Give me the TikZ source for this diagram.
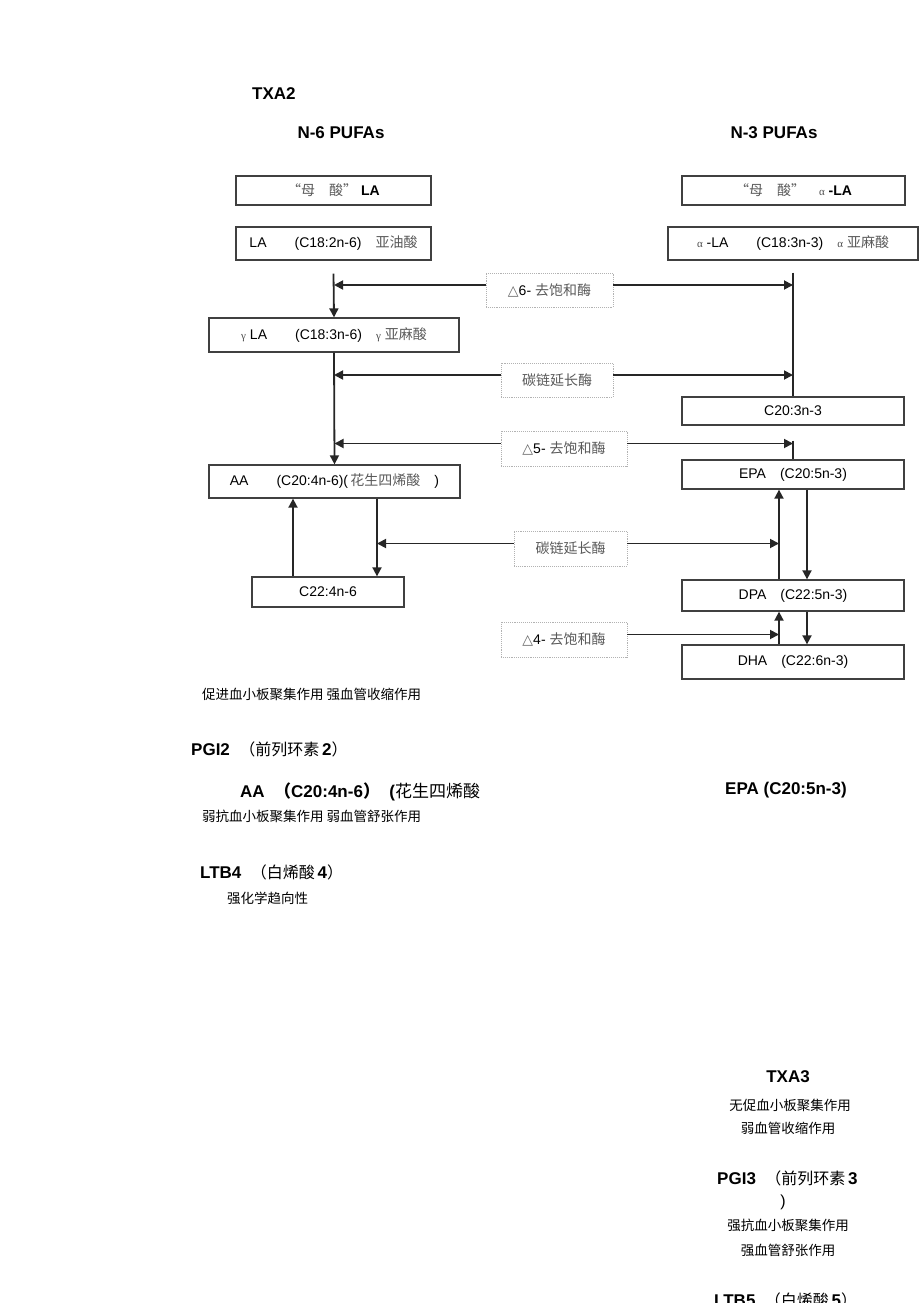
\documentclass[tikz,border=0pt]{standalone}
\usepackage{fontspec}
\setmainfont{Liberation Sans}
\newfontfamily\cjk{Noto Sans CJK SC}
\newfontfamily\grk{Liberation Serif}
\newfontfamily\sym{DejaVu Sans}
\usetikzlibrary{arrows.meta}

\newcommand{\zhgray}[1]{{\cjk\color{black!65}#1}}
\newcommand{\gk}[1]{{\grk\fontsize{11}{12}\selectfont\color{black!70}#1}}
\newcommand{\delt}[1]{{\sym\fontsize{14}{15}\selectfont\color{black!60}\char"25B3}#1}

\begin{document}
\begin{tikzpicture}[x=1pt, y=-1pt]
            % Define styles
            \tikzstyle{box} = [rectangle, draw=black!75, line width=1.3pt, inner sep=0pt, font=\fontsize{14}{16}\selectfont]
            \tikzstyle{enzyme} = [rectangle, draw=black!30, densely dotted, line width=0.9pt, inner sep=0pt, font=\fontsize{14}{16}\selectfont]
            \tikzstyle{line} = [draw=black!85, line width=1.8pt]
            \tikzstyle{arrow} = [line, -{Triangle[length=9pt, width=9pt]}]
            \tikzstyle{title} = [inner sep=0pt, font=\fontsize{17}{20}\selectfont\bfseries]
            \tikzstyle{note} = [inner sep=0pt, font=\cjk\fontsize{13.5}{15}\selectfont]

            \clip (0,0) rectangle (920,1303);

            % Headings
            \node[title, anchor=west] (txa2) at (252,94) {TXA2};
            \node[title] (n6) at (341,133) {N-6 PUFAs};
            \node[title] (n3) at (774,133) {N-3 PUFAs};

            % N-6 column
            \node[box, minimum width=195pt, minimum height=29pt] (mLA) at (333.5,190.5) {\zhgray{“母\quad 酸”}\ {\bfseries LA}};
            \node[box, minimum width=195pt, minimum height=33pt] (LA) at (333.5,243.5) {LA\qquad(C18:2n-6)\quad\zhgray{亚油酸}};
            \node[box, minimum width=250pt, minimum height=34pt] (gLA) at (334,335) {\gk{γ} LA\qquad(C18:3n-6)\quad\gk{γ} \zhgray{亚麻酸}};
            \node[box, minimum width=251pt, minimum height=33pt] (AA) at (334.5,481.5) {AA\qquad(C20:4n-6)(\,\zhgray{花生四烯酸}\quad)};
            \node[box, minimum width=152pt, minimum height=30pt] (C22) at (328,592) {C22:4n-6};

            % N-3 column
            \node[box, minimum width=223pt, minimum height=29pt] (mALA) at (793.5,190.5) {\zhgray{“母\quad 酸”}\quad\gk{α} {\bfseries -LA}};
            \node[box, minimum width=250pt, minimum height=33pt] (ALA) at (793,243.5) {\gk{α} -LA\qquad(C18:3n-3)\quad\gk{α} \zhgray{亚麻酸}};
            \node[box, minimum width=222pt, minimum height=28pt] (C203) at (793,411) {C20:3n-3};
            \node[box, minimum width=222pt, minimum height=29pt] (EPA) at (793,474.5) {EPA\quad(C20:5n-3)};
            \node[box, minimum width=222pt, minimum height=31pt] (DPA) at (793,595.5) {DPA\quad(C22:5n-3)};
            \node[box, minimum width=222pt, minimum height=34pt] (DHA) at (793,662) {DHA\quad(C22:6n-3)};

            % Enzymes
            \node[enzyme, minimum width=127pt, minimum height=34pt] (D6) at (549.5,290) {\delt{6-} \zhgray{去饱和酶}};
            \node[enzyme, minimum width=112pt, minimum height=34pt] (E1) at (557,380) {\zhgray{碳链延长酶}};
            \node[enzyme, minimum width=126pt, minimum height=35pt] (D5) at (564,448.5) {\delt{5-} \zhgray{去饱和酶}};
            \node[enzyme, minimum width=113pt, minimum height=35pt] (E2) at (570.5,548.5) {\zhgray{碳链延长酶}};
            \node[enzyme, minimum width=126pt, minimum height=35pt] (D4) at (564,639.5) {\delt{4-} \zhgray{去饱和酶}};

            % Connections, N-6 side
            \draw[arrow] ([yshift=-13pt]LA.south) -- (gLA.north);
            \draw[arrow] (gLA.south) -- (AA.north);
            \draw[arrow] ([yshift=5pt]D6.west) -- ([yshift=5pt]D6.west -| gLA.north);
            \draw[arrow] ([yshift=5pt]E1.west) -- ([yshift=5pt]E1.west -| gLA.south);
            \draw[arrow] ([yshift=5pt]D5.west) -- ([yshift=5pt]D5.west -| AA.north);

            \coordinate (aaUp) at ([xshift=-35pt]C22.north);
            \coordinate (aaDown) at ([xshift=49pt]C22.north);
            \draw[arrow] (aaUp) -- (aaUp |- AA.south);
            \draw[arrow] (aaDown |- AA.south) -- (aaDown);
            \draw[arrow] ([yshift=5pt]E2.west) -- ([yshift=5pt]E2.west -| aaDown);

            % Connections, N-3 side
            \draw[line] ([yshift=-12pt]ALA.south) -- (C203.north);
            \draw[arrow] ([yshift=5pt]D6.east) -- ([yshift=5pt]D6.east -| C203.north);
            \draw[arrow] ([yshift=5pt]E1.east) -- ([yshift=5pt]E1.east -| C203.north);
            \draw[line] ([yshift=8pt]D5.east -| EPA.north) -- (EPA.north);
            \draw[arrow] ([yshift=5pt]D5.east) -- ([yshift=5pt]D5.east -| EPA.north);

            \coordinate (epaUp) at ([xshift=-14pt]DPA.north);
            \coordinate (epaDown) at ([xshift=14pt]DPA.north);
            \draw[arrow] (epaUp) -- (epaUp |- EPA.south);
            \draw[arrow] (epaDown |- EPA.south) -- (epaDown);
            \draw[arrow] ([yshift=5pt]E2.east) -- ([yshift=5pt]E2.east -| epaUp);

            \coordinate (dpaUp) at ([xshift=-14pt]DHA.north);
            \coordinate (dpaDown) at ([xshift=14pt]DHA.north);
            \draw[arrow] (dpaUp) -- (dpaUp |- DPA.south);
            \draw[arrow] (dpaDown |- DPA.south) -- (dpaDown);
            \draw[arrow] ([yshift=5pt]D4.east) -- ([yshift=5pt]D4.east -| dpaUp);

            % Effects, N-6 side
            \node[note, anchor=west] (txa2fx) at (202,694) {促进血小板聚集作用\ 强血管收缩作用};
            \node[title, anchor=west] (pgi2) at (191,749) {PGI2\ \ {\cjk\mdseries\fontsize{16}{18}\selectfont （前列环素}\,2{\cjk\mdseries\fontsize{16}{18}\selectfont ）}};
            \node[title, anchor=west] (aa2) at (240,792) {AA\ \ {\cjk （}C20:4n-6{\cjk ）}\ \ ({\cjk\mdseries 花生四烯酸}};
            \node[note, anchor=west] (pgi2fx) at (202,816) {弱抗血小板聚集作用\ 弱血管舒张作用};
            \node[title, anchor=west] (ltb4) at (200,872) {LTB4\ \ {\cjk\mdseries\fontsize{16}{18}\selectfont （白烯酸}\,4{\cjk\mdseries\fontsize{16}{18}\selectfont ）}};
            \node[note, anchor=west] (ltb4fx) at (227,898) {强化学趋向性};

            % Effects, N-3 side
            \node[title, anchor=west] (epa2) at (725,790) {EPA (C20:5n-3)};
            \node[title] (txa3) at (788,1077) {TXA3};
            \node[note] (txa3fx1) at (790,1105) {无促血小板聚集作用};
            \node[note] (txa3fx2) at (788,1128) {弱血管收缩作用};
            \node[title, anchor=west] (pgi3) at (717,1178) {PGI3\ \ {\cjk\mdseries\fontsize{16}{18}\selectfont （前列环素}\,3};
            \node[title, font=\fontsize{16}{18}\selectfont] (pgi3b) at (783,1202) {)};
            \node[note] (pgi3fx1) at (788,1225) {强抗血小板聚集作用};
            \node[note] (pgi3fx2) at (788,1250) {强血管舒张作用};
            \node[title, anchor=west] (ltb5) at (714,1300) {LTB5\ \ {\cjk\mdseries\fontsize{16}{18}\selectfont （白烯酸}\,5{\cjk\mdseries\fontsize{16}{18}\selectfont ）}};
        \end{tikzpicture}
\end{document}
